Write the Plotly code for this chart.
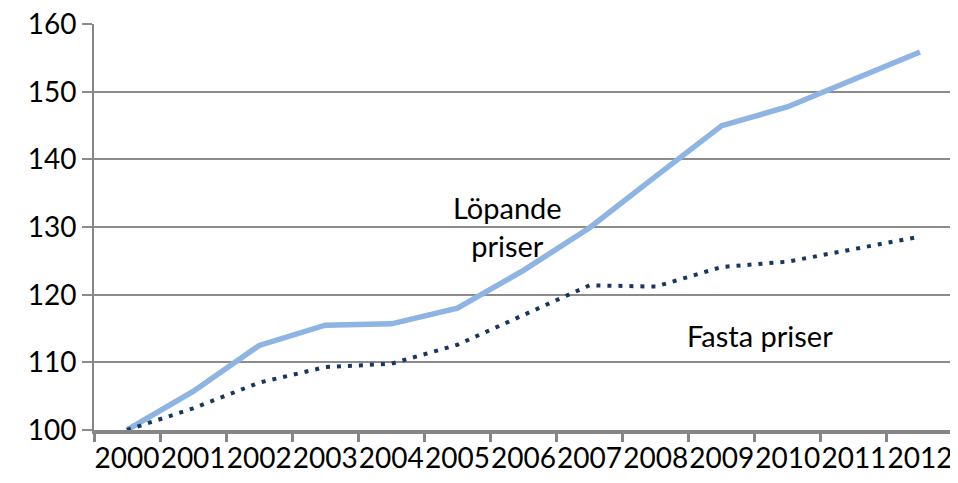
import plotly.graph_objects as go

years = ["2000", "2001", "2002", "2003", "2004", "2005", "2006",
         "2007", "2008", "2009", "2010", "2011", "2012"]
lopande = [100.0, 105.7, 112.5, 115.5, 115.7, 118.0, 123.6,
           129.9, 137.5, 145.0, 147.8, 151.9, 155.9]
fasta = [100.0, 103.2, 107.0, 109.3, 109.8, 112.6, 117.0,
         121.4, 121.2, 124.1, 124.9, 126.8, 128.6]
y_ticks = [100, 110, 120, 130, 140, 150, 160]

FONT = "Lato"

fig = go.Figure()
fig.add_trace(go.Scatter(
    x=years, y=lopande, mode="lines", name="Löpande priser",
    line=dict(color="#8DB4E2", width=5.5),
))
fig.add_trace(go.Scatter(
    x=years, y=fasta, mode="lines", name="Fasta priser",
    line=dict(color="#17375E", width=4, dash="4px,7px"),
))

fig.add_annotation(x=5.76, y=130.1, text="Löpande<br>priser", showarrow=False,
                   font=dict(family=FONT, size=29, color="#000000"),
                   xanchor="center", yanchor="middle", align="center")
fig.add_annotation(x=9.58, y=113.9, text="Fasta priser", showarrow=False,
                   font=dict(family=FONT, size=29, color="#000000"),
                   xanchor="center", yanchor="middle")

# the page body has an 8px margin, so the figure is sized/offset for that
fig.update_layout(
    width=950, height=475,
    margin=dict(l=86, r=5, t=16, b=53, autoexpand=False),
    paper_bgcolor="white", plot_bgcolor="white",
    showlegend=False,
    font=dict(family=FONT, size=28, color="#000000"),
    xaxis=dict(
        type="category", range=[-0.5, 12.5], tickangle=0,
        showline=True, linecolor="#868686", linewidth=4,
        ticks="outside", tickson="boundaries", ticklen=8, tickwidth=3,
        tickcolor="#868686", showgrid=False, zeroline=False,
        tickfont=dict(family=FONT, size=28), automargin=False,
    ),
    yaxis=dict(
        range=[100, 160.03], tickvals=y_ticks,
        showline=True, linecolor="#868686", linewidth=2,
        showgrid=True, gridcolor="#8C8C8C", gridwidth=1.5,
        ticks="outside", ticklen=10, tickwidth=1.5, tickcolor="#8C8C8C",
        zeroline=False, automargin=False, ticklabeloverflow="allow",
        tickfont=dict(family=FONT, size=28),
    ),
)

fig.write_html("out.html")
